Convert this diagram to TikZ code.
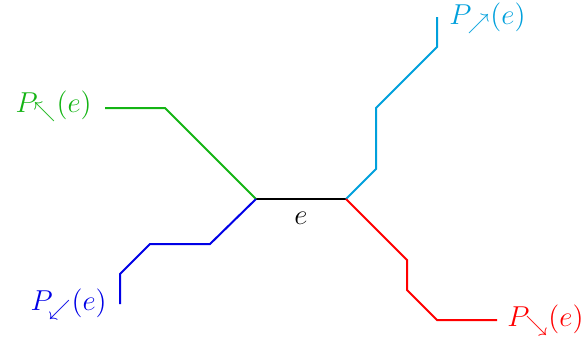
\documentclass[tikz,border=0pt]{standalone}
\usepackage{amssymb}
\definecolor{cgreen}{RGB}{20,180,20}
\definecolor{ccyan}{RGB}{0,160,220}
\definecolor{cblue}{RGB}{0,0,230}
\definecolor{cred}{RGB}{255,0,0}
\begin{document}
\begin{tikzpicture}[x=0.5pt,y=-0.5pt,
  pathline/.style={line width=1pt},
  lbl/.style={font=\fontsize{15.2}{18}\selectfont,inner sep=0pt}]
\useasboundingbox (0,0) rectangle (588,343);
\coordinate (A) at (256,199);
\coordinate (B) at (346,199);
% labels
\node[lbl,anchor=east,text=cgreen] (Lnw) at (92,106) {$P_{\nwarrow}(e)$};
\node[lbl,anchor=east,text=cblue] (Lsw) at (107,304) {$P_{\swarrow}(e)$};
\node[lbl,anchor=west,text=ccyan] (Lne) at (449,18) {$P_{\nearrow}(e)$};
\node[lbl,anchor=west,text=cred] (Lse) at (507,320) {$P_{\searrow}(e)$};
\coordinate (Gend) at (105,108);
\coordinate (Bend) at (120,304);
\coordinate (Cend) at (437,17);
\coordinate (Rend) at (497,320);
% paths
\draw[pathline,black] (A) -- node[lbl,below=6pt] (el) {$e$} (B);
\draw[pathline,cgreen] (A) -- (165,108) -- (Gend);
\draw[pathline,cblue] (A) -- (210,244) -- (150,244) -- (120,274) -- (Bend);
\draw[pathline,ccyan] (B) -- (376,169) -- (376,108) -- (437,47) -- (Cend);
\draw[pathline,cred] (B) -- (407,260) -- (407,290) -- (437,320) -- (Rend);
\end{tikzpicture}
\end{document}
